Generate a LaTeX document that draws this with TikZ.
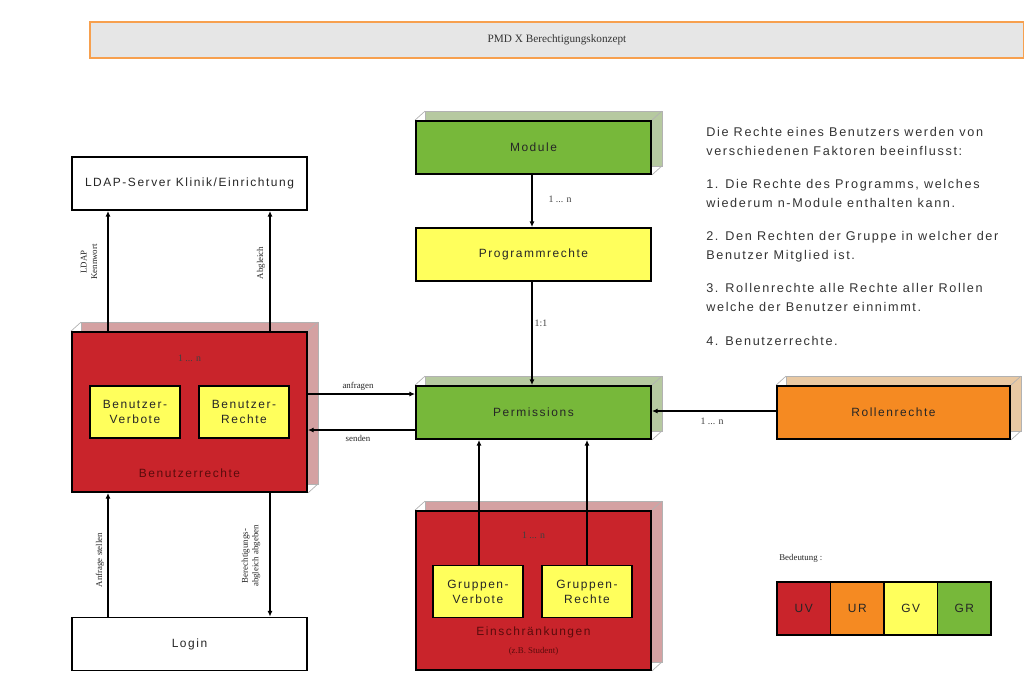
\documentclass[tikz,border=0pt]{standalone}
\usepackage{fontspec}
\setmainfont{Liberation Sans}[LetterSpace=13]
\newfontfamily\lblfont{Liberation Serif}
\usetikzlibrary{arrows.meta,backgrounds}
\definecolor{cred}{HTML}{C9242B}
\definecolor{credsh}{HTML}{D4A1A2}
\definecolor{cgreen}{HTML}{77B83A}
\definecolor{cgreensh}{HTML}{B6C9A0}
\definecolor{cyellow}{HTML}{FFFF5C}
\definecolor{corange}{HTML}{F58A22}
\definecolor{corangesh}{HTML}{E9C9A3}
\definecolor{ctitle}{HTML}{E6E6E6}
\definecolor{ctitleb}{HTML}{F7A04E}
\definecolor{cdark}{HTML}{5A0C0C}
\tikzset{
  box/.style={draw=black, line width=1.3pt, inner sep=0pt, align=center, text=black!85,
    font=\fontsize{8.5}{10.5}\selectfont, minimum width=5.875cm, minimum height=1.325cm},
  bigbox/.style={box, fill=cred, minimum height=4cm},
  inbox/.style={box, fill=cyellow, minimum width=2.25cm, minimum height=1.3cm},
  cell/.style={box, minimum width=1.3375cm, minimum height=1.325cm, outer sep=0pt},
  conn/.style={line width=1.3pt, -{Latex[length=4pt,width=3.5pt]}},
  lbl/.style={font=\lblfont\fontsize{6.3}{7.3}\selectfont, align=center, inner sep=0pt, text=black!85},
  mult/.style={font=\lblfont\fontsize{7}{8}\selectfont, inner sep=0pt, text=black!75},
  shadeline/.style={draw=gray!60, line width=0.5pt}
}
\newcommand{\backface}[2]{%
  \fill[#2] ([shift={(10,-9)}]#1.south west) rectangle ([shift={(10,-9)}]#1.north east);
  \draw[shadeline] ([shift={(10,-9)}]#1.south west) rectangle ([shift={(10,-9)}]#1.north east);
  \draw[shadeline] (#1.north west) -- ([shift={(10,-9)}]#1.north west);
  \draw[shadeline] (#1.north east) -- ([shift={(10,-9)}]#1.north east);
  \draw[shadeline] (#1.south east) -- ([shift={(10,-9)}]#1.south east);
}
\begin{document}
\begin{tikzpicture}[x=0.025cm,y=-0.025cm]
\useasboundingbox (0,0) rectangle (1024,687);
\clip (0,0) rectangle (1024,687);

% title
\node[draw=ctitleb, line width=1.3pt, fill=ctitle, minimum width=23.35cm, minimum height=0.9cm,
  inner sep=0pt, font=\lblfont\fontsize{8}{9}\selectfont, text=black!80] (title) at (557,40) {PMD X Berechtigungskonzept};

% boxes
\node[box, fill=white] (ldap) at (189.5,183.5) {LDAP-Server Klinik/Einrichtung};
\node[bigbox] (benr) at (189.5,412) {};
\node[inbox] (bv) at (135,412) {Benutzer-\\Verbote};
\node[inbox] (br) at (244,412) {Benutzer-\\Rechte};
\node[mult] (benrn) at (189.5,358) {1 ... n};
\node[font=\fontsize{8.5}{10}\selectfont, text=cdark] (benrt) at (189.5,473) {Benutzerrechte};
\node[box, fill=white] (login) at (189.5,644) {Login};

\node[box, fill=cgreen] (module) at (533.5,147.5) {Module};
\node[box, fill=cyellow] (prog) at (533.5,254.5) {Programmrechte};
\node[box, fill=cgreen] (perm) at (533.5,412.5) {Permissions};
\node[box, fill=corange, minimum width=5.825cm] (rolle) at (893.5,412.5) {Rollenrechte};

\node[bigbox, minimum height=3.975cm] (einsch) at (533.5,590.5) {};
\node[inbox] (gv) at (478,591.5) {Gruppen-\\Verbote};
\node[inbox] (gr) at (587,591.5) {Gruppen-\\Rechte};
\node[mult] (einschn) at (533.5,535) {1 ... n};
\node[font=\fontsize{8.5}{10}\selectfont, text=cdark] (einscht) at (533.5,632) {Einschränkungen};
\node[lbl, text=cdark] (einschz) at (533.5,651) {(z.B. Student)};

% shadows
\begin{scope}[on background layer]
\backface{benr}{credsh}
\backface{einsch}{credsh}
\backface{module}{cgreensh}
\backface{perm}{cgreensh}
\backface{rolle}{corangesh}
\end{scope}

% coordinates
\coordinate (x108) at (108,0);
\coordinate (x270) at (270,0);
\coordinate (x532) at (532,0);
\coordinate (x479) at (479,0);
\coordinate (x587) at (587,0);
\coordinate (y394) at (0,394);
\coordinate (y430) at (0,430);
\coordinate (y411) at (0,411);

% connectors
\draw[conn] (benr.north -| x108) -- (ldap.south -| x108);
\draw[conn] (benr.north -| x270) -- (ldap.south -| x270);
\draw[conn] (login.north -| x108) -- (benr.south -| x108);
\draw[conn] (benr.south -| x270) -- (login.north -| x270);
\draw[conn] (benr.east |- y394) -- (perm.west |- y394);
\draw[conn] (perm.west |- y430) -- (benr.east |- y430);
\draw[conn] (module.south -| x532) -- (prog.north -| x532);
\draw[conn] (prog.south -| x532) -- (perm.north -| x532);
\draw[conn] (gv.north -| x479) -- (perm.south -| x479);
\draw[conn] (gr.north -| x587) -- (perm.south -| x587);
\draw[conn] (rolle.west |- y411) -- (perm.east |- y411);

% connector labels
\node[lbl, rotate=90] (l1) at (89,262) {LDAP\\Kennwort};
\node[lbl, rotate=90] (l2) at (261,263) {Abgleich};
\node[lbl, rotate=90] (l3) at (100,560) {Anfrage stellen};
\node[lbl, rotate=90] (l4) at (251,556) {Berechtigungs-\\abgleich abgeben};
\node[lbl] (l5) at (358,386) {anfragen};
\node[lbl] (l6) at (358,438) {senden};
\node[mult] (m1) at (560,199) {1 ... n};
\node[mult] (m2) at (541,323) {1:1};
\node[mult] (m3) at (712,421) {1 ... n};

% description
\node[anchor=north west, align=left, inner sep=0pt, text=black!80,
  font=\fontsize{9}{13.3}\selectfont] (desc) at (706,127) {%
Die Rechte eines Benutzers werden von\\
verschiedenen Faktoren beeinflusst:\\[10.5pt]
1. Die Rechte des Programms, welches\\
wiederum n-Module enthalten kann.\\[10.5pt]
2. Den Rechten der Gruppe in welcher der\\
Benutzer Mitglied ist.\\[10.5pt]
3. Rollenrechte alle Rechte aller Rollen\\
welche der Benutzer einnimmt.\\[10.5pt]
4. Benutzerrechte.};

% legend
\node[lbl, anchor=west] (legt) at (779,558) {Bedeutung :};
\node[cell, fill=cred] (uv) at (803.75,608.5) {UV};
\node[cell, fill=corange, anchor=west] (ur) at (uv.east) {UR};
\node[cell, fill=cyellow, anchor=west] (gvl) at (ur.east) {GV};
\node[cell, fill=cgreen, anchor=west] (grl) at (gvl.east) {GR};
\end{tikzpicture}
\end{document}
